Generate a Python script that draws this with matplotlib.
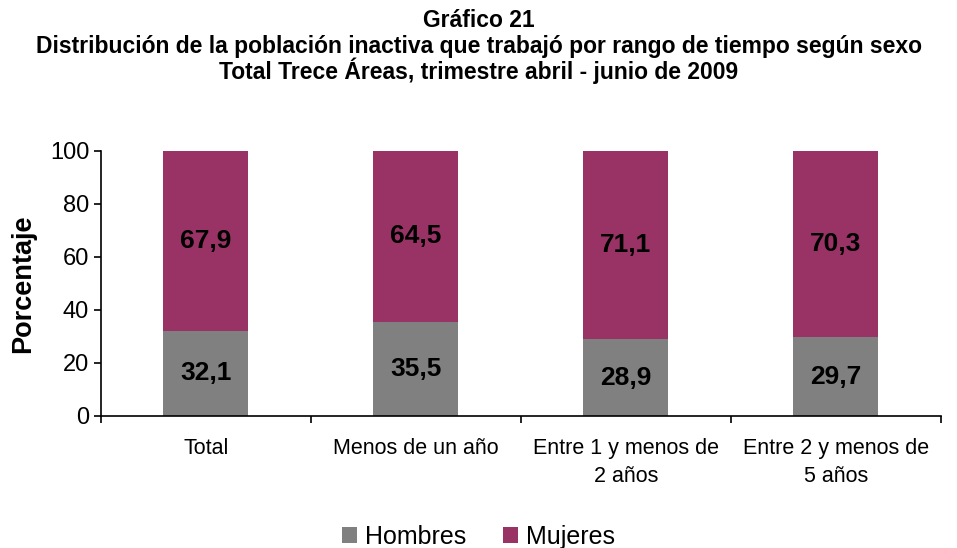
import matplotlib.pyplot as plt
import numpy as np

plt.rcParams['font.family'] = ['Liberation Sans', 'DejaVu Sans']

# Data
categories = ['Total', 'Menos de un año', 'Entre 1 y menos de\n2 años', 'Entre 2 y menos de\n5 años']
hombres = [32.1, 35.5, 28.9, 29.7]
mujeres = [67.9, 64.5, 71.1, 70.3]

c_h = '#808080'
c_m = '#993366'

fig = plt.figure(figsize=(9.57, 5.48), dpi=100)
ax = fig.add_axes([0.1055, 0.2409, 0.8775, 0.4836])

x = np.arange(len(categories))
w = 0.405
ax.bar(x, hombres, w, color=c_h, label='Hombres')
ax.bar(x, mujeres, w, bottom=hombres, color=c_m, label='Mujeres')

for xi, h, m in zip(x, hombres, mujeres):
    ax.text(xi, h / 2, f'{h:.1f}'.replace('.', ','), ha='center', va='center',
            fontsize=19, fontweight='bold')
    ax.text(xi, h + m / 2, f'{m:.1f}'.replace('.', ','), ha='center', va='center',
            fontsize=19, fontweight='bold')

ax.set_xlim(-0.5, len(categories) - 0.5)
ax.set_ylim(0, 100)
ax.set_yticks(range(0, 101, 20))
ax.set_xticks(np.arange(-0.5, len(categories), 1.0))
ax.set_xticklabels([])
ax.set_xticks(x, minor=True)
ax.set_xticklabels(categories, minor=True, fontsize=15.5, linespacing=1.45)
ax.tick_params(axis='x', which='minor', length=0, pad=16)
ax.tick_params(axis='x', which='major', direction='out', length=5, width=1.2)
ax.tick_params(axis='y', direction='out', length=5, width=1.2, labelsize=17)

for s in ['top', 'right']:
    ax.spines[s].set_visible(False)
for s in ['left', 'bottom']:
    ax.spines[s].set_linewidth(1.2)

ax.set_ylabel('Porcentaje', fontsize=19.5, fontweight='bold', labelpad=10)

fig.text(0.5, 0.962, 'Gráfico 21', ha='center', va='center', fontsize=16.5, fontweight='bold')
fig.text(0.5, 0.916, 'Distribución de la población inactiva que trabajó por rango de tiempo según sexo',
         ha='center', va='center', fontsize=16.5, fontweight='bold')
fig.text(0.5, 0.870, 'Total Trece Áreas, trimestre abril - junio de 2009',
         ha='center', va='center', fontsize=16.5, fontweight='bold')

fig.legend(loc='center', bbox_to_anchor=(0.5, 0.02), ncol=2, frameon=False,
           fontsize=18, handlelength=0.62, handleheight=0.62, handletextpad=0.33,
           columnspacing=1.45)

fig.savefig('out.png', dpi=100)
